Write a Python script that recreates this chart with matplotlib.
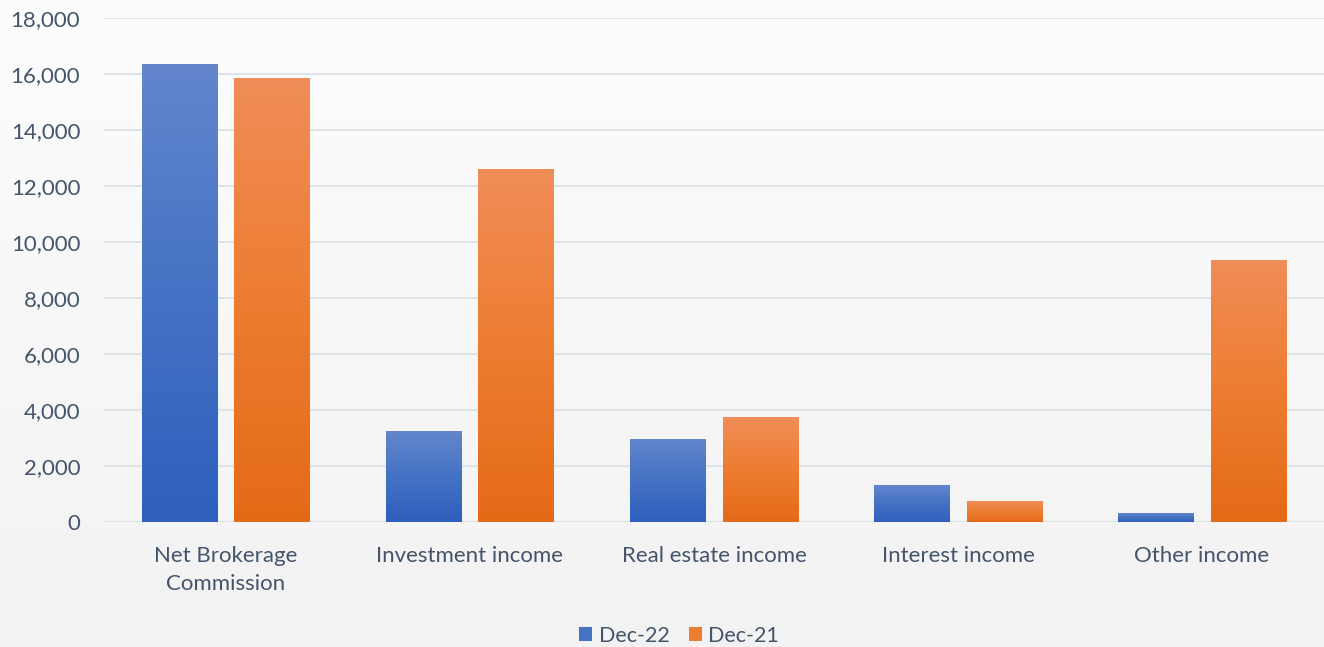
import matplotlib.pyplot as plt
import numpy as np
from matplotlib.colors import LinearSegmentedColormap
from matplotlib.patches import Patch

# Veriler
categories = ["Net Brokerage\nCommission", "Investment income", "Real estate income",
              "Interest income", "Other income"]
dec22 = [16360, 3250, 2930, 1290, 320]
dec21 = [15860, 12610, 3750, 750, 9340]
series_names = ["Dec-22", "Dec-21"]
y_ticks = list(range(0, 18001, 2000))

text_color = "#44546a"
plt.rcParams['font.family'] = ['Lato', 'DejaVu Sans']

fig = plt.figure(figsize=(13.24, 6.47), dpi=100)

# arka plan gradyanı (üst beyaz, alt açık gri)
bg = fig.add_axes([0, 0, 1, 1], zorder=-10)
grad = np.linspace(0, 1, 256).reshape(-1, 1)
bg_cmap = LinearSegmentedColormap.from_list("bg", ["#f2f2f2", "#fdfdfd"])
bg.imshow(grad, aspect="auto", cmap=bg_cmap, origin="lower", extent=[0, 1, 0, 1])
bg.axis("off")

ax = fig.add_axes([0.0785, 0.1932, 0.9215, 0.7788])
ax.patch.set_alpha(0)

x = np.arange(len(categories))
w = 0.31
off = 0.19
b1 = ax.bar(x - off, dec22, w, color="none", zorder=2)
b2 = ax.bar(x + off, dec21, w, color="none", zorder=2)

blue_cmap = LinearSegmentedColormap.from_list("b", ["#2e5fbd", "#4472c4", "#6386cd"])
orange_cmap = LinearSegmentedColormap.from_list("o", ["#e46a17", "#ed7d31", "#f18d58"])

# her çubuğa dikey gradyan
for bars, cm in [(b1, blue_cmap), (b2, orange_cmap)]:
    for r in bars:
        x0, w0, h = r.get_x(), r.get_width(), r.get_height()
        ax.imshow(grad, aspect="auto", cmap=cm, origin="lower",
                  extent=[x0, x0 + w0, 0, h], zorder=2)

ax.set_xlim(-0.5, len(categories) - 0.5)
ax.set_ylim(0, 18000)
ax.set_yticks(y_ticks)
ax.set_yticklabels([f"{v:,}" for v in y_ticks])
ax.set_xticks(x)
ax.set_xticklabels(categories, linespacing=1.55)
ax.tick_params(axis="both", length=0, colors=text_color, labelsize=16)
ax.tick_params(axis="x", pad=17)
ax.tick_params(axis="y", pad=17)
for lab in ax.get_yticklabels():
    lab.set_horizontalalignment("right")

ax.grid(axis="y", color="#dfe3ea", linewidth=1.5, zorder=0)
ax.set_axisbelow(True)
for s in ax.spines.values():
    s.set_visible(False)

handles = [Patch(facecolor="#4472c4", label=series_names[0]),
           Patch(facecolor="#ed7d31", label=series_names[1])]
fig.legend(handles=handles, loc="lower center", ncol=2, frameon=False,
           bbox_to_anchor=(0.513, -0.028), fontsize=15.5, labelcolor=text_color,
           handlelength=0.6, handleheight=0.6, handletextpad=0.3, columnspacing=0.9)

fig.savefig("out.png", dpi=100)
